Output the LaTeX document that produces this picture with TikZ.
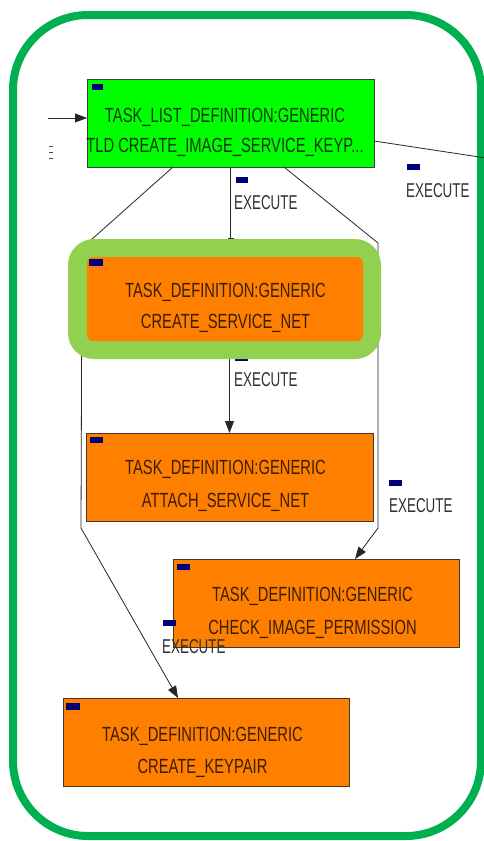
\documentclass[tikz,border=0pt]{standalone}
\usepackage{fontspec}
\usetikzlibrary{arrows.meta}
\newfontfamily\boxfont[FakeStretch=0.72]{Liberation Sans}
\newfontfamily\edgefont[FakeStretch=0.67]{Liberation Sans}
\definecolor{framegreen}{HTML}{00B050}
\definecolor{hlgreen}{HTML}{92D050}
\definecolor{tldgreen}{HTML}{00FF00}
\definecolor{taskorange}{HTML}{FF8000}
\definecolor{marknavy}{HTML}{000078}
\definecolor{boxline}{HTML}{4A3422}
\definecolor{tasktext}{HTML}{3A1E05}
\definecolor{tldtext}{HTML}{0B360B}
\definecolor{edgetext}{HTML}{303030}
\begin{document}
\begin{tikzpicture}[x=1pt,y=-1pt,
  taskbox/.style={draw=boxline, line width=0.8pt, fill=taskorange,
    minimum width=#1, minimum height=88pt, inner sep=0pt, outer sep=0pt},
  taskbox/.default=287pt,
  tldbox/.style={draw=black!75, line width=0.8pt, fill=tldgreen,
    minimum width=287pt, minimum height=88pt, inner sep=0pt, outer sep=0pt},
  hlbox/.style={fill=hlgreen, rounded corners=26pt, minimum width=313pt,
    minimum height=120pt, inner sep=0pt, outer sep=0pt},
  innerbox/.style={fill=taskorange, rounded corners=6pt, minimum width=276pt,
    minimum height=84pt, inner sep=0pt, outer sep=0pt},
  % anchored at the baseline of the second line
  boxtext/.style={anchor=base, align=center, inner sep=0pt, text=tasktext,
    font=\boxfont\fontsize{20.5}{#1}\selectfont},
  boxtext/.default=32.5pt,
  edgelabel/.style={anchor=west, inner sep=0pt, text=edgetext,
    font=\edgefont\fontsize{20}{24}\selectfont},
  flag/.style={fill=marknavy},
  edge/.style={draw=black!85, line width=0.8pt},
  arrowed/.style={edge, -{Triangle[length=12pt,width=9pt]}},
]
\useasboundingbox (0,0) rectangle (484,841);

% outer frame
\draw[framegreen, line width=8pt, rounded corners=75pt] (13,15) rectangle (481,836);

% task boxes (placed first so connectors can refer to them)
\node[tldbox] (tld) at (230.5,123) {};
\node[taskbox] (att) at (229.5,477) {};
\node[taskbox=286pt] (chk) at (316,603) {};
\node[taskbox=286pt] (kp) at (206,742) {};

% bend points of the routed connectors
\coordinate (offL) at (48,118);
\coordinate (offR) at (486,158);
\coordinate (lb1) at (82,248);
\coordinate (lb2) at (81,528);
\coordinate (rb1) at (378,243);
\coordinate (rb2) at (378,528);

% connectors
\draw[arrowed] (offL) -- ([yshift=5pt]tld.west);
\draw[edge] ([yshift=-18pt]tld.east) -- (offR);
\draw[arrowed] ([xshift=-57.5pt]tld.south) -- (lb1) -- (lb2) -- ([xshift=-28pt]kp.north);
\draw[arrowed] ([xshift=53.5pt]tld.south) -- (rb1) -- (rb2) -- ([xshift=39pt]chk.north);
\draw[arrowed] (att.north |- 0,341) -- (att.north);

% trailing strokes of a label cut at the left edge
\foreach \yy in {146,152,158} \draw[black!70, line width=1pt] (49,\yy) -- (53,\yy);

% edge labels
\fill[flag] (236,177) rectangle ++(12,6);
\node[edgelabel] (l1) at (234,203) {EXECUTE};
\fill[flag] (407,164) rectangle ++(13,6);
\node[edgelabel] (l2) at (406,191) {EXECUTE};
\fill[flag] (235,355) rectangle ++(13,6);
\node[edgelabel] (l3) at (234,380) {EXECUTE};
\fill[flag] (389,480) rectangle ++(13,6);
\node[edgelabel] (l4) at (389,506) {EXECUTE};

% highlighted task
\node[hlbox] (csnhl) at (224.5,299) {};
\node[innerbox] (csn) at (225,299) {};
\draw[edge, -{Bar[width=6pt]}] (tld.south) -- (tld.south |- csnhl.north);

% box flags
\fill[flag] ([shift={(5,5)}]tld.north west) rectangle ++(11,6);
\fill[flag] ([shift={(2,2)}]csn.north west) rectangle ++(14,7);
\fill[flag] ([shift={(4,4)}]att.north west) rectangle ++(13,6);
\fill[flag] ([shift={(4,5)}]chk.north west) rectangle ++(13,6);
\fill[flag] ([shift={(3,5)}]kp.north west) rectangle ++(14,7);

% box texts
\node[boxtext=30pt, text=tldtext] (tldtxt) at (225,152.4)
  {TASK\_LIST\_DEFINITION:GENERIC\\TLD CREATE\_IMAGE\_SERVICE\_KEYP...};
\node[boxtext=31pt] (csntxt) at (225.5,328.6) {TASK\_DEFINITION:GENERIC\\CREATE\_SERVICE\_NET};
\node[boxtext] (atttxt) at (225.5,507.3) {TASK\_DEFINITION:GENERIC\\ATTACH\_SERVICE\_NET};
\node[boxtext] (chktxt) at (312.5,634.3) {TASK\_DEFINITION:GENERIC\\CHECK\_IMAGE\_PERMISSION};
\node[boxtext=32pt] (kptxt) at (202.5,773) {TASK\_DEFINITION:GENERIC\\CREATE\_KEYPAIR};

% label sitting over the lower box edge
\fill[flag] (163,620) rectangle ++(13,6);
\node[edgelabel] (l5) at (162,647) {EXECUTE};
\end{tikzpicture}
\end{document}
